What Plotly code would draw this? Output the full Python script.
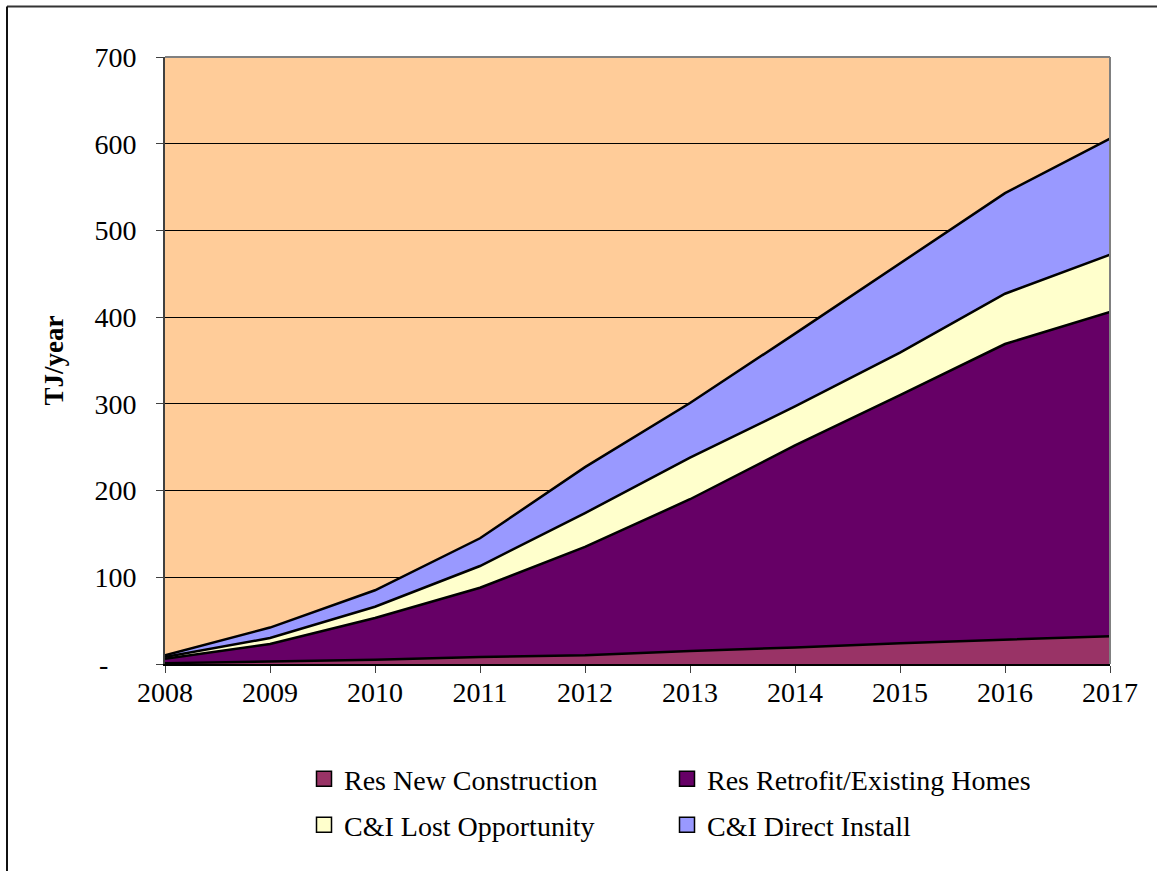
import plotly.graph_objects as go

years = [2008, 2009, 2010, 2011, 2012, 2013, 2014, 2015, 2016, 2017]
res_new = [1, 3, 5, 8, 10, 15, 19, 24, 28, 32]
res_retrofit = [5, 20, 48, 80, 125, 175, 233, 286, 341, 374]
ci_lost = [2, 7, 13, 25, 39, 48, 45, 49, 58, 66]
ci_direct = [2, 12, 19, 32, 53, 63, 84, 103, 116, 134]

series = [
    ("Res New Construction", res_new, "#993366"),
    ("Res Retrofit/Existing Homes", res_retrofit, "#660066"),
    ("C&I Lost Opportunity", ci_lost, "#FFFFCC"),
    ("C&I Direct Install", ci_direct, "#9999FF"),
]

y_ticks = [0, 100, 200, 300, 400, 500, 600, 700]
y_ticktext = ["-" + "\u00a0" * 4, "100", "200", "300", "400", "500", "600", "700"]

FONT = "Liberation Serif, Times New Roman, serif"

fig = go.Figure()
for name, vals, col in series:
    fig.add_trace(go.Scatter(
        x=years, y=vals, name=name, stackgroup="one", mode="lines",
        line=dict(color="black", width=2.5), fillcolor=col, showlegend=False,
        hoverinfo="x+y+name",
    ))

# legend-only square markers, two legends = two rows
for i, (name, vals, col) in enumerate(series):
    fig.add_trace(go.Scatter(
        x=[None], y=[None], name=name, mode="markers",
        marker=dict(symbol="square", size=15, color=col, line=dict(color="black", width=1.5)),
        legend="legend" if i < 2 else "legend2",
    ))

L, R, T, B = 165, 1110, 57, 664
W, H = 1157, 871
def px(x):
    return (x - L) / (R - L)
def py(y):
    return (B - y) / (B - T)

leg_common = dict(
    orientation="h", xanchor="left", yanchor="middle",
    font=dict(family=FONT, size=28, color="black"),
    entrywidth=318, entrywidthmode="pixels", bgcolor="rgba(0,0,0,0)",
    traceorder="normal", itemclick=False, itemdoubleclick=False,
)

fig.update_layout(
    width=W, height=H,
    margin=dict(l=L, r=W - R, t=T, b=H - B),
    paper_bgcolor="white", plot_bgcolor="#FFCC99",
    font=dict(family=FONT, size=28, color="black"),
    showlegend=True,
    legend=dict(x=px(304), y=py(779), **leg_common),
    legend2=dict(x=px(304), y=py(825), **leg_common),
    xaxis=dict(
        range=[2008, 2017], tickvals=years, ticktext=[str(y) for y in years],
        showgrid=False, zeroline=False, showline=True, linecolor="black", linewidth=2,
        ticks="outside", ticklen=7, tickcolor="#404040", tickwidth=1,
        ticklabelstandoff=-5,
        tickfont=dict(family=FONT, size=28, color="black"),
    ),
    yaxis=dict(
        range=[0, 700], tickvals=y_ticks, ticktext=y_ticktext,
        showgrid=True, gridcolor="black", gridwidth=1, zeroline=False,
        showline=True, linecolor="#404040", linewidth=2,
        ticks="outside", ticklen=7, tickcolor="#404040", tickwidth=1,
        ticklabelstandoff=14,
        tickfont=dict(family=FONT, size=28, color="black"),
    ),
    annotations=[dict(
        text="<b>TJ/year</b>", x=px(53), y=0.5, xref="paper", yref="paper",
        textangle=-90, showarrow=False, xanchor="center", yanchor="middle",
        font=dict(family=FONT, size=27, color="black"),
    )],
    shapes=[
        dict(type="line", xref="paper", yref="paper", x0=0, x1=1, y0=1, y1=1,
             line=dict(color="#808080", width=2)),
        dict(type="line", xref="paper", yref="paper", x0=1, x1=1, y0=0, y1=1,
             line=dict(color="#808080", width=2)),
        dict(type="line", xref="paper", yref="paper", x0=px(7), x1=px(1160), y0=py(6.5), y1=py(6.5),
             line=dict(color="#333333", width=2)),
        dict(type="line", xref="paper", yref="paper", x0=px(7), x1=px(7), y0=py(6.5), y1=py(880),
             line=dict(color="#111111", width=2)),
    ],
)

fig.write_html("out.html")
